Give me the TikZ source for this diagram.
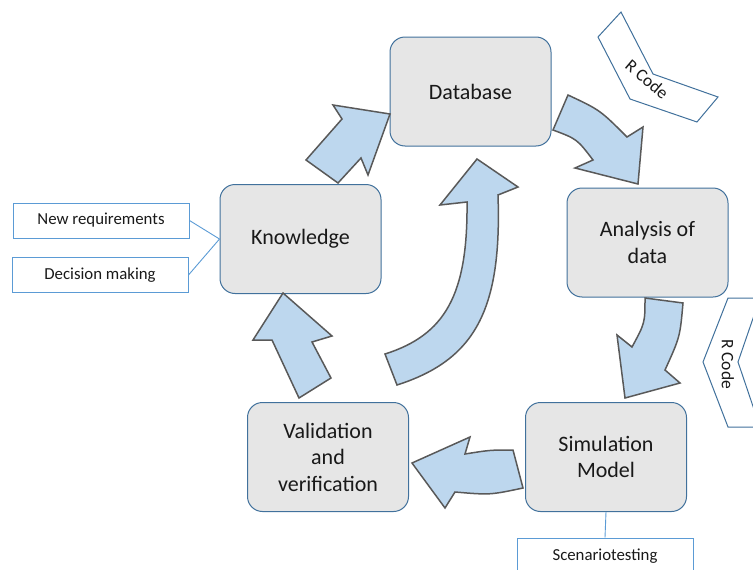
\documentclass[tikz,border=0pt]{standalone}
\usepackage{fontspec}
\setmainfont{Carlito}
\usepackage{tikz}
\usepackage{xcolor}

\definecolor{boxfill}{HTML}{E6E6E6}
\definecolor{boxline}{HTML}{41719C}
\definecolor{noteline}{HTML}{5B9BD5}
\definecolor{arrowfill}{HTML}{BDD7EE}
\definecolor{arrowline}{HTML}{595959}

\begin{document}
\begin{tikzpicture}[x=1pt,y=-1pt,
  stage/.style={draw=boxline, line width=1pt, fill=boxfill, rounded corners=15pt,
    minimum width=161pt, minimum height=109pt, align=center, text=black!90,
    font=\fontsize{22}{26.5}\selectfont},
  note/.style={draw=noteline, line width=1pt, minimum width=176pt, minimum height=35pt,
    text=black!90, font=\fontsize{16.8}{19}\selectfont},
  blockarrow/.style={draw=arrowline, fill=arrowfill, line width=1.5pt, line join=miter},
  codetag/.style={draw=boxline, line width=1pt, fill=white}]
\useasboundingbox (0,0) rectangle (753,570);
\clip (0,0) rectangle (753,570);

% the five stages
\node[stage] (database) at (470.5,91.5) {Database};
\node[stage] (analysis) at (647.5,242.5) {Analysis of\\data};
\node[stage] (simulation) at (606,457) {Simulation\\Model};
\node[stage] (validation) at (328,457) {Validation\\and\\verification};
\node[stage] (knowledge) at (300.5,239) {Knowledge};

% block arrows round the cycle
\draw[blockarrow] (306,160) -- (342,119) -- (333,105) -- (390,114) -- (368,175) -- (361,158) -- (338,183) -- cycle;
\draw[blockarrow] (568,95) .. controls (600,110) .. (627,137) -- (643,127) -- (638,184) -- (575,168) -- (593,160) .. controls (577,139) .. (553,130) -- cycle;
\draw[blockarrow] (645,298) -- (683,303) .. controls (680,337) .. (665,370) -- (680,383) -- (625,398) -- (617,335) -- (632,347) .. controls (645,323) .. cycle;
\draw[blockarrow] (412,463) -- (470,437) -- (465,454) .. controls (490,450) .. (513,450) -- (523,488) .. controls (490,495) .. (455,492) -- (445,508) -- cycle;
\draw[blockarrow] (283,293) -- (332,336) -- (312,342) -- (331,378) -- (299,398) -- (272,340) -- (253,340) -- cycle;
\draw[blockarrow] (477,159) -- (518,187) -- (498,195) .. controls (502,310) and (475,360) .. (397,385) -- (385,354) .. controls (445,335) and (468,295) .. (467,202) -- (440,205) -- cycle;

% R code tags
\draw[codetag] (621,12) -- (598,37) -- (630,99) -- (697,122) -- (718,97) -- (653,74) -- cycle;
\node[rotate=-40, inner sep=0pt, text=black!90, font=\fontsize{17.5}{20}\selectfont] (rcodetop) at (647,79) {R Code};
\draw[codetag] (728,298) -- (703,362) -- (728,427) -- (760,427) -- (738,362) -- (760,298) -- cycle;
\node[rotate=-90, inner sep=0pt, text=black!90, font=\fontsize{17.5}{20}\selectfont] (rcoderight) at (728,364) {R Code};

% notes
\node[note] (newreq) at (101,220.5) {New requirements};
\node[note] (decision) at (100,275) {Decision making};
\node[note, minimum height=36pt] (scenario) at (605,556) {Scenariotesting};
\draw[noteline, line width=0.9pt] (newreq.east) -- (knowledge.west);
\draw[noteline, line width=0.9pt] (decision.east) -- (knowledge.west);
\draw[noteline, line width=0.9pt] (simulation.south) -- (scenario.north);

\end{tikzpicture}
\end{document}
